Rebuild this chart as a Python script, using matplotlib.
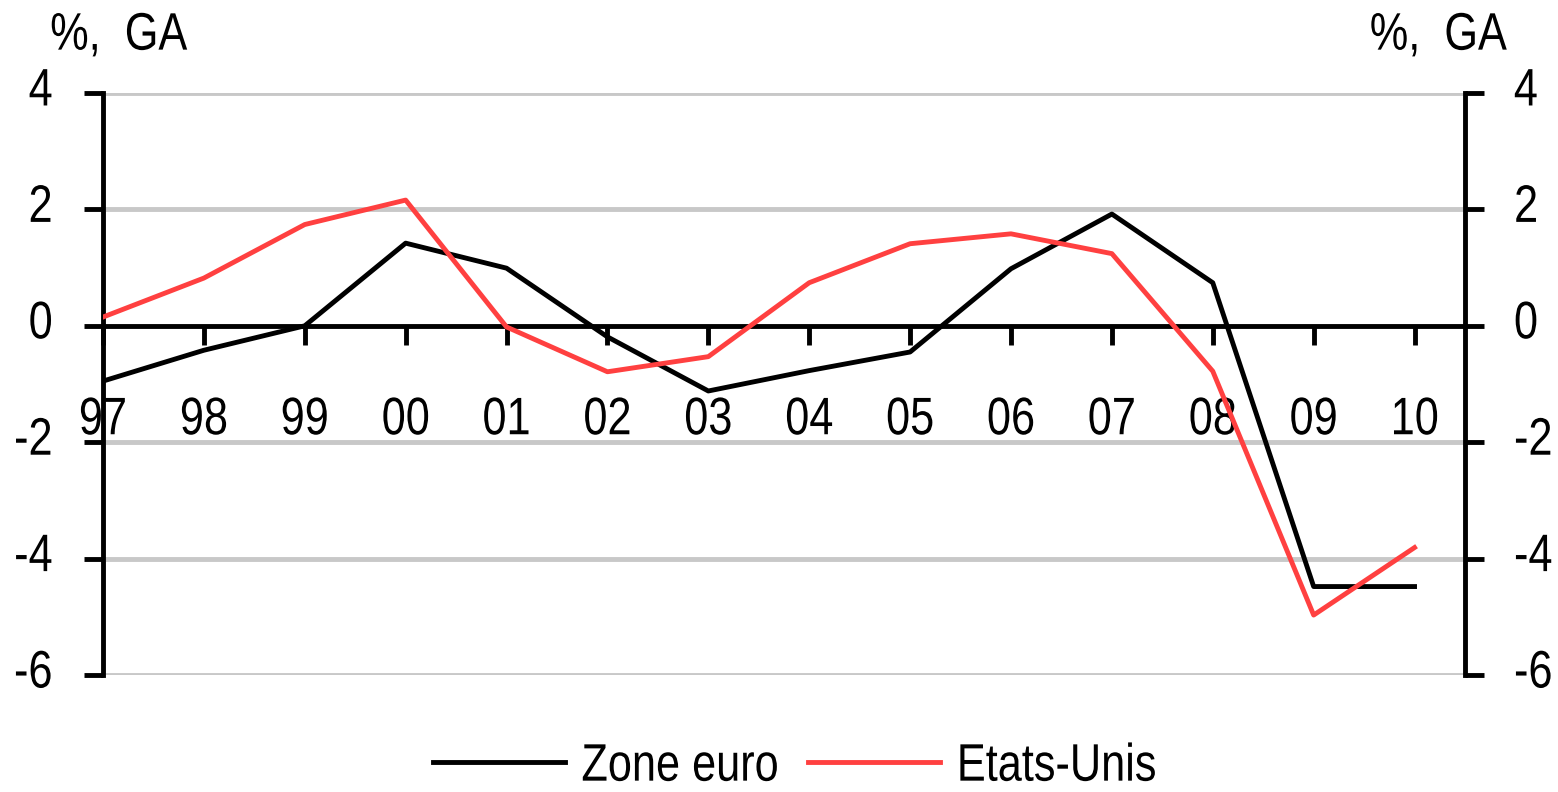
import matplotlib
matplotlib.use('Agg')
import matplotlib.pyplot as plt
import matplotlib.transforms as mtransforms
from matplotlib.patheffects import AbstractPathEffect

plt.rcParams['font.family'] = ['Liberation Sans Narrow', 'Liberation Sans', 'DejaVu Sans']

# données (glissement annuel, %)
annees = ['97', '98', '99', '00', '01', '02', '03', '04', '05', '06', '07', '08', '09', '10']
zone_euro = [-0.95, -0.42, 0.0, 1.42, 0.99, -0.19, -1.12, -0.77, -0.45, 0.98, 1.92, 0.74, -4.48, -4.48]
etats_unis = [0.15, 0.82, 1.74, 2.16, -0.02, -0.79, -0.53, 0.74, 1.41, 1.58, 1.24, -0.78, -4.97, -3.81]
y_ticks = [-6, -4, -2, 0, 2, 4]


# resserre le texte horizontalement (police étroite façon Arial Narrow)
class Etroit(AbstractPathEffect):
    def __init__(self, sx=0.82, ancre=0.5):
        super().__init__()
        self.sx = sx
        self.ancre = ancre

    def draw_path(self, renderer, gc, tpath, affine, rgbFace=None):
        ext = tpath.get_extents()
        ref = ext.x0 + self.ancre * (ext.x1 - ext.x0)
        t = mtransforms.Affine2D().translate(-ref, 0).scale(self.sx, 1).translate(ref, 0) + affine
        renderer.draw_path(gc, tpath, t, rgbFace)


x = list(range(len(annees)))

fig = plt.figure(figsize=(15.58, 7.92), dpi=100)
ax = fig.add_axes([0.0661, 0.1477, 0.8742, 0.7349])

# grille horizontale
for t in y_ticks:
    if t != 0:
        ax.axhline(t, color='#c8c8c8', lw=3.5, zorder=1)

ax.plot(x, zone_euro, color='black', lw=3.5, label='Zone euro', zorder=3)
ax.plot(x, etats_unis, color='#ff4040', lw=3.5, label='Etats-Unis', zorder=3)

ax.set_xlim(0, 13.5)
ax.set_ylim(-6, 4)

# axe des x sur la ligne 0
ax.spines['bottom'].set_position(('data', 0))
ax.spines['top'].set_visible(False)
ax.spines['right'].set_visible(False)
for s in ['left', 'bottom']:
    ax.spines[s].set_linewidth(3.5)
ax.set_xticks(x)
ax.set_xticklabels(annees)
ax.tick_params(axis='x', direction='out', length=14, width=3.5, pad=36, labelsize=38)
ax.set_yticks(y_ticks)
ax.set_yticklabels([str(t) for t in y_ticks])
ax.tick_params(axis='y', direction='out', length=14, width=3.5, pad=22, labelsize=38)

# axe de droite
ax2 = ax.twinx()
ax2.set_ylim(-6, 4)
ax2.set_yticks(y_ticks)
ax2.set_yticklabels([str(t) for t in y_ticks])
for s in ['left', 'top', 'bottom']:
    ax2.spines[s].set_visible(False)
ax2.spines['right'].set_linewidth(3.5)
ax2.tick_params(axis='y', direction='out', length=14, width=3.5, pad=21, labelsize=38)

# décalage vertical des étiquettes y
off = mtransforms.ScaledTranslation(0, 7 / 100, fig.dpi_scale_trans)
for lab in ax.get_yticklabels():
    lab.set_transform(lab.get_transform() + off)
    lab.set_path_effects([Etroit(ancre=1.0)])
for lab in ax2.get_yticklabels():
    lab.set_transform(lab.get_transform() + off)
    lab.set_path_effects([Etroit(ancre=0.0)])
for lab in ax.get_xticklabels():
    lab.set_path_effects([Etroit(ancre=0.5)])

t1 = fig.text(0.032, 0.955, '%,  GA', fontsize=38, ha='left', va='center')
t1.set_path_effects([Etroit(ancre=0.0)])
t2 = fig.text(0.967, 0.955, '%,  GA', fontsize=38, ha='right', va='center')
t2.set_path_effects([Etroit(ancre=1.0)])

leg = fig.legend(loc='center', bbox_to_anchor=(0.524, 0.032), ncol=2, frameon=False,
                 fontsize=38, handlelength=2.5, handletextpad=0.3, columnspacing=-0.25)
for txt in leg.get_texts():
    txt.set_path_effects([Etroit(ancre=0.0)])

fig.savefig('out.png', dpi=100)
